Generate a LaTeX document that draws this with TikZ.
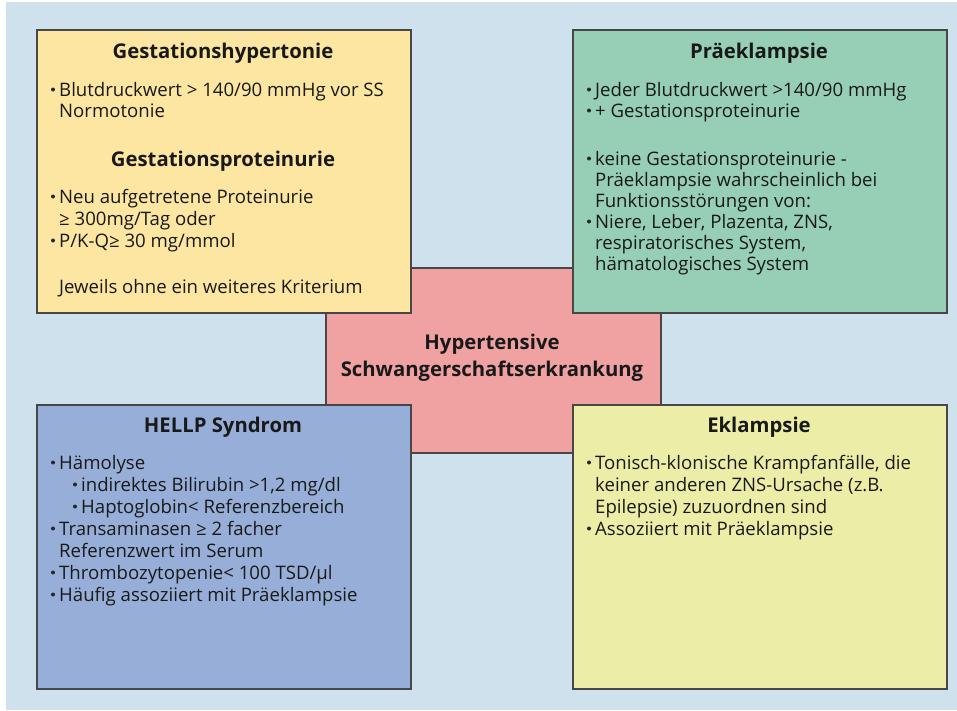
\documentclass[tikz,border=0pt]{standalone}
\usepackage{fontspec}
\setmainfont{Open Sans}
\definecolor{bgblue}{HTML}{CFE1EC}
\definecolor{boxyellow}{HTML}{FCE6A2}
\definecolor{boxgreen}{HTML}{96CFB6}
\definecolor{boxblue}{HTML}{97AFD8}
\definecolor{boxlime}{HTML}{ECEEA8}
\definecolor{boxpink}{HTML}{F0A2A2}
\definecolor{edge}{HTML}{474747}
\newcounter{lineno}
% plain text line, placed by its baseline start
\newcommand\txtline[3]{\stepcounter{lineno}%
  \node[body,anchor=base west] (line\thelineno) at (#1,#2) {#3};}
% bulleted line: small bullet, then the text
\newcommand\bulline[3]{\stepcounter{lineno}%
  \node[bullet] (dot\thelineno) at (#1+3,#2-6.5) {};
  \node[body,anchor=base west] (line\thelineno) at (#1+9,#2) {#3};}
\tikzset{
  panel/.style={draw=edge,line width=2.2pt},
  body/.style={inner sep=0pt,font=\fontsize{18.6}{22}\selectfont,text=black!90},
  heading/.style={inner sep=0pt,anchor=base,font=\bfseries\fontsize{20.3}{24}\selectfont,text=black!90},
  bullet/.style={circle,fill=black!85,inner sep=0pt,minimum size=4pt},
}
\begin{document}
\begin{tikzpicture}[x=1pt,y=-1pt]
\useasboundingbox (0,0) rectangle (957,710);
\fill[white] (0,0) rectangle (957,710);
\fill[bgblue] (6,2) rectangle (957,710);

% central panel, behind the four corner panels
\node[panel,fill=boxpink,minimum width=335pt,minimum height=185pt,anchor=north west,inner sep=0pt] (center) at (325,267) {};

\node[panel,fill=boxyellow,minimum width=374pt,minimum height=283pt,anchor=north west,inner sep=0pt] (gest) at (36,29) {};
\node[panel,fill=boxgreen,minimum width=374pt,minimum height=283pt,anchor=north west,inner sep=0pt] (praek) at (572,29) {};
\node[panel,fill=boxblue,minimum width=374pt,minimum height=284pt,anchor=north west,inner sep=0pt] (hellp) at (36,404) {};
\node[panel,fill=boxlime,minimum width=374pt,minimum height=284pt,anchor=north west,inner sep=0pt] (eklam) at (572,404) {};

% center label
\node[heading] (centerA) at (492,349) {Hypertensive};
\node[heading] (centerB) at (492,376) {Schwangerschaftserkrankung};

% Gestationshypertonie / Gestationsproteinurie
\node[heading] (gestT) at (223,58) {Gestationshypertonie};
\bulline{50}{96}{Blutdruckwert > 140/90 mmHg vor SS}
\txtline{59}{117}{Normotonie}
\node[heading] (protT) at (223,166) {Gestationsproteinurie};
\bulline{50}{203}{Neu aufgetretene Proteinurie}
\txtline{59}{225}{≥ 300mg/Tag oder}
\bulline{50}{247}{P/K-Q≥ 30 mg/mmol}
\txtline{59}{293}{Jeweils ohne ein weiteres Kriterium}

% Praeklampsie
\node[heading] (praekT) at (759,58) {Präeklampsie};
\bulline{586}{96}{Jeder Blutdruckwert >140/90 mmHg}
\bulline{586}{117}{+ Gestationsproteinurie}
\bulline{586}{165}{keine Gestationsproteinurie -}
\txtline{595}{186}{Präeklampsie wahrscheinlich bei}
\txtline{595}{207}{Funktionsstörungen von:}
\bulline{586}{228}{Niere, Leber, Plazenta, ZNS,}
\txtline{595}{249}{respiratorisches System,}
\txtline{595}{270}{hämatologisches System}

% HELLP Syndrom
\node[heading] (hellpT) at (223,432) {HELLP Syndrom};
\bulline{50}{469}{Hämolyse}
\bulline{72}{491}{indirektes Bilirubin >1,2 mg/dl}
\bulline{72}{513}{Haptoglobin< Referenzbereich}
\bulline{50}{535}{Transaminasen ≥ 2 facher}
\txtline{59}{557}{Referenzwert im Serum}
\bulline{50}{579}{Thrombozytopenie< 100 TSD/µl}
\bulline{50}{601}{Häufig assoziiert mit Präeklampsie}

% Eklampsie
\node[heading] (eklamT) at (759,432) {Eklampsie};
\bulline{586}{469}{Tonisch-klonische Krampfanfälle, die}
\txtline{595}{491}{keiner anderen ZNS-Ursache (z.B.}
\txtline{595}{513}{Epilepsie) zuzuordnen sind}
\bulline{586}{535}{Assoziiert mit Präeklampsie}
\end{tikzpicture}
\end{document}
